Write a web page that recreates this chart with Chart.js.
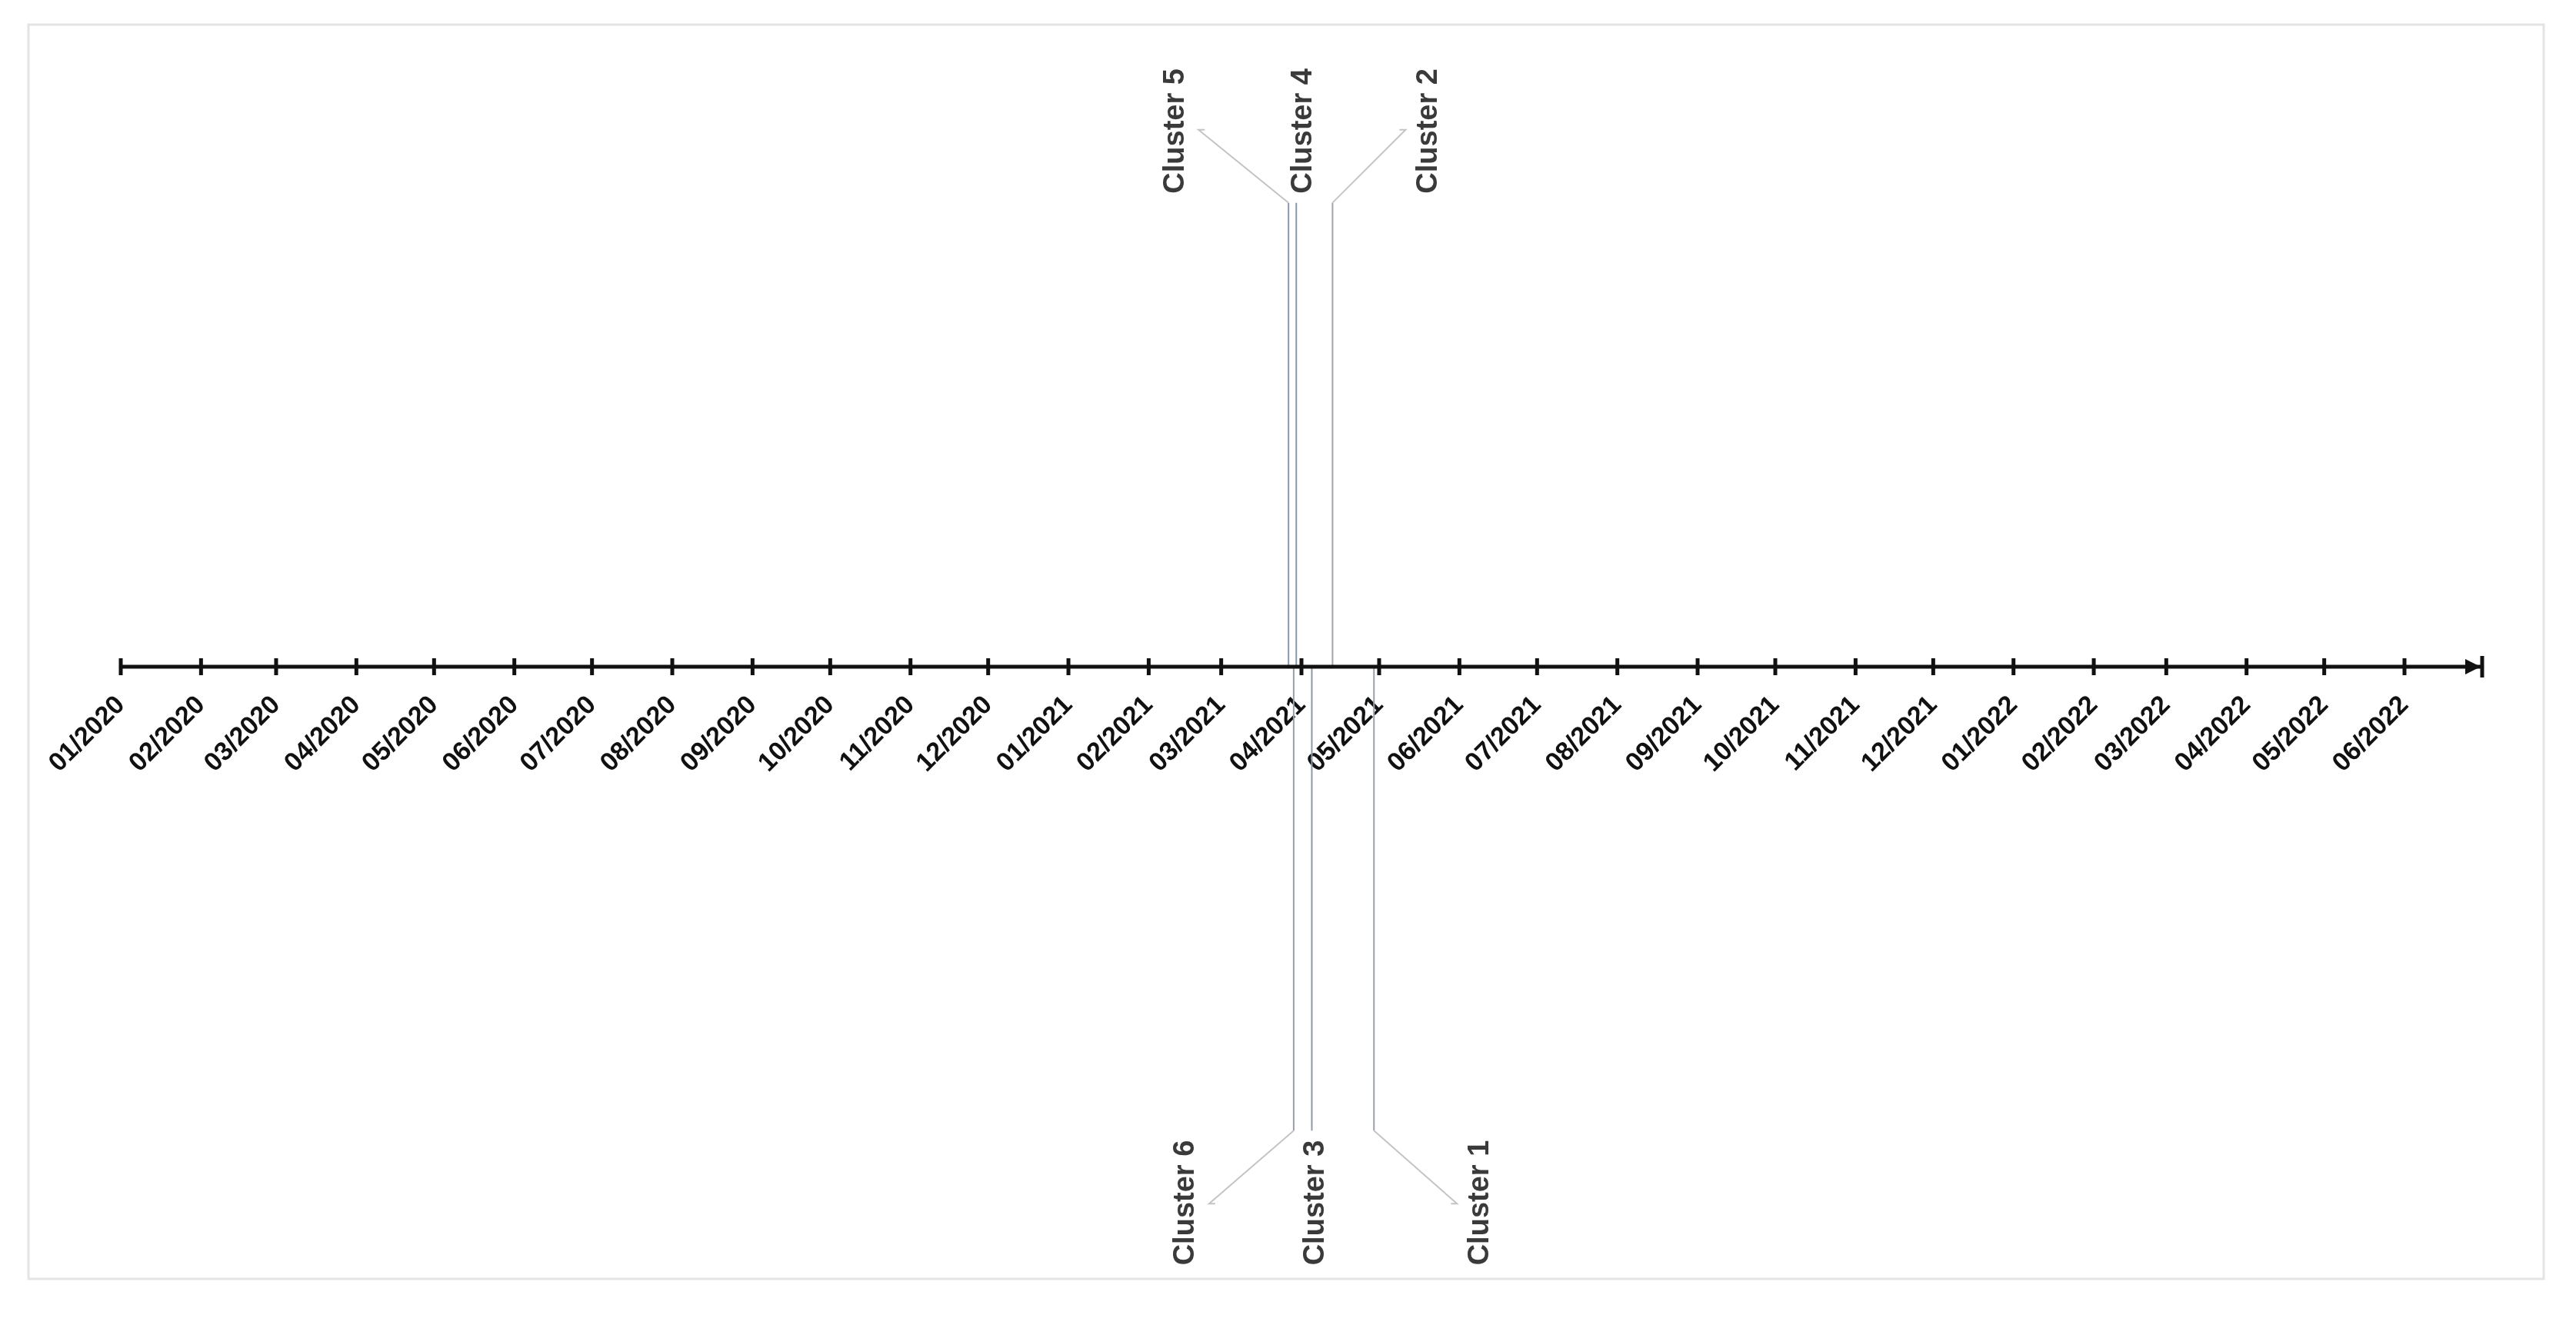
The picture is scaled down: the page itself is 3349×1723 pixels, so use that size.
<!DOCTYPE html>
<html><head><meta charset="utf-8">
<script src="https://cdn.jsdelivr.net/npm/chart.js@4/dist/chart.umd.min.js"></script>
<style>html,body{margin:0;padding:0;background:#fff}#c{display:block}</style>
</head><body>
<canvas id="c" width="3349" height="1723"></canvas>
<script>
// ---- data ----
const eventNames = ["Cluster 1","Cluster 2","Cluster 3","Cluster 4","Cluster 5","Cluster 6"];
const eventDates = ["2021-04-29","2021-04-13","2021-04-05","2021-03-30","2021-03-27","2021-03-29"];
const eventSides = [-1, 1, -1, 1, 1, -1];
const axisStart = "2020-01-01";
const axisEnd = "2022-07-01";
const tickLabels = ["01/2020","02/2020","03/2020","04/2020","05/2020","06/2020","07/2020","08/2020","09/2020","10/2020","11/2020","12/2020","01/2021","02/2021","03/2021","04/2021","05/2021","06/2021","07/2021","08/2021","09/2021","10/2021","11/2021","12/2021","01/2022","02/2022","03/2022","04/2022","05/2022","06/2022"];

// ---- layout / style (not data) ----
const labelDx = {"Cluster 1":138,"Cluster 2":125,"Cluster 3":5,"Cluster 4":9,"Cluster 5":-147,"Cluster 6":-140};
const lineColors = {"Cluster 1":"#9aa0ab","Cluster 2":"#a0a4aa","Cluster 3":"#8f98a8","Cluster 4":"#8797b3","Cluster 5":"#8797b3","Cluster 6":"#9aa0ab"};

const day0 = Date.UTC(2020,0,1);
function toDay(s){const [y,m,d]=s.split("-").map(Number);return (Date.UTC(y,m-1,d)-day0)/86400000;}
function labelToDay(l){const [m,y]=l.split("/").map(Number);return (Date.UTC(y,m-1,1)-day0)/86400000;}
const tickDays = tickLabels.map(labelToDay);
const tickMap = {}; tickDays.forEach((d,i)=>tickMap[d]=tickLabels[i]);

const datasets = eventNames.map((n,i)=>({
  label:n,
  data:[{x:toDay(eventDates[i]),y:0},{x:toDay(eventDates[i]),y:eventSides[i]}],
  borderColor:lineColors[n], borderWidth:2, pointRadius:0, fill:false, tension:0
}));

const deco = {
  id:'deco',
  beforeDraw(chart){
    const ctx=chart.ctx;
    ctx.save();ctx.strokeStyle='#e4e4e4';ctx.lineWidth=3;
    ctx.strokeRect(37,32,3270,1631);ctx.restore();
  },
  afterDraw(chart){
    const ctx=chart.ctx, xs=chart.scales.x, ys=chart.scales.y;
    const y0=ys.getPixelForValue(0);
    ctx.save();
    ctx.strokeStyle='#111';ctx.lineWidth=5;
    const xa=xs.getPixelForValue(toDay(axisStart)), xb=xs.getPixelForValue(toDay(axisEnd));
    ctx.beginPath();ctx.moveTo(xa,y0);ctx.lineTo(xb,y0);ctx.stroke();
    ctx.lineWidth=5;
    tickDays.forEach(d=>{const x=xs.getPixelForValue(d);ctx.beginPath();ctx.moveTo(x,y0-11);ctx.lineTo(x,y0+11);ctx.stroke();});
    ctx.beginPath();ctx.moveTo(xb,y0-14);ctx.lineTo(xb,y0+14);ctx.stroke();
    ctx.fillStyle='#111';ctx.beginPath();ctx.moveTo(xb-2,y0);ctx.lineTo(xb-22,y0-10);ctx.lineTo(xb-22,y0+10);ctx.closePath();ctx.fill();
    // event labels
    ctx.font='bold 38px "Liberation Sans", Arial, sans-serif';
    ctx.fillStyle='#3a3a3a';
    eventNames.forEach((n,i)=>{
      const x=xs.getPixelForValue(toDay(eventDates[i]));
      const side=eventSides[i];
      const yEnd=ys.getPixelForValue(side);
      const lx=x+labelDx[n];
      ctx.strokeStyle='#c4c4c4';ctx.lineWidth=2;
      if(Math.abs(labelDx[n])>40){
        const cx=lx-Math.sign(labelDx[n])*30;
        const cy=yEnd-side*95;
        ctx.beginPath();ctx.moveTo(x,yEnd);ctx.lineTo(cx,cy);ctx.lineTo(cx-Math.sign(labelDx[n])*8,cy);ctx.stroke();
      }
      ctx.save();
      if(side>0){ctx.translate(lx,yEnd-12);ctx.rotate(-Math.PI/2);ctx.textAlign='left';}
      else{ctx.translate(lx,yEnd+175);ctx.rotate(-Math.PI/2);ctx.textAlign='left';}
      ctx.textBaseline='middle';ctx.fillText(n,0,0);ctx.restore();
    });
    ctx.restore();
  }
};

new Chart(document.getElementById('c'),{
  type:'line',
  data:{datasets},
  options:{
    responsive:false,animation:false,
    layout:{padding:{left:157,right:122,top:143,bottom:132}},
    plugins:{legend:{display:false},tooltip:{enabled:false}},
    scales:{
      x:{type:'linear',position:{y:0},min:toDay(axisStart),max:toDay(axisEnd),
        afterBuildTicks(s){s.ticks=tickDays.map(v=>({value:v}));},
        grid:{display:false},border:{display:false},
        ticks:{autoSkip:false,maxRotation:45,minRotation:45,padding:22,color:'#111',
          font:{family:'"Liberation Sans", Arial, sans-serif',size:34,weight:'bold'},
          callback:(v)=>tickMap[v]||''}},
      y:{type:'linear',min:-1.2,max:1.2,display:false}
    }
  },
  plugins:[deco]
});
</script>
</body></html>
